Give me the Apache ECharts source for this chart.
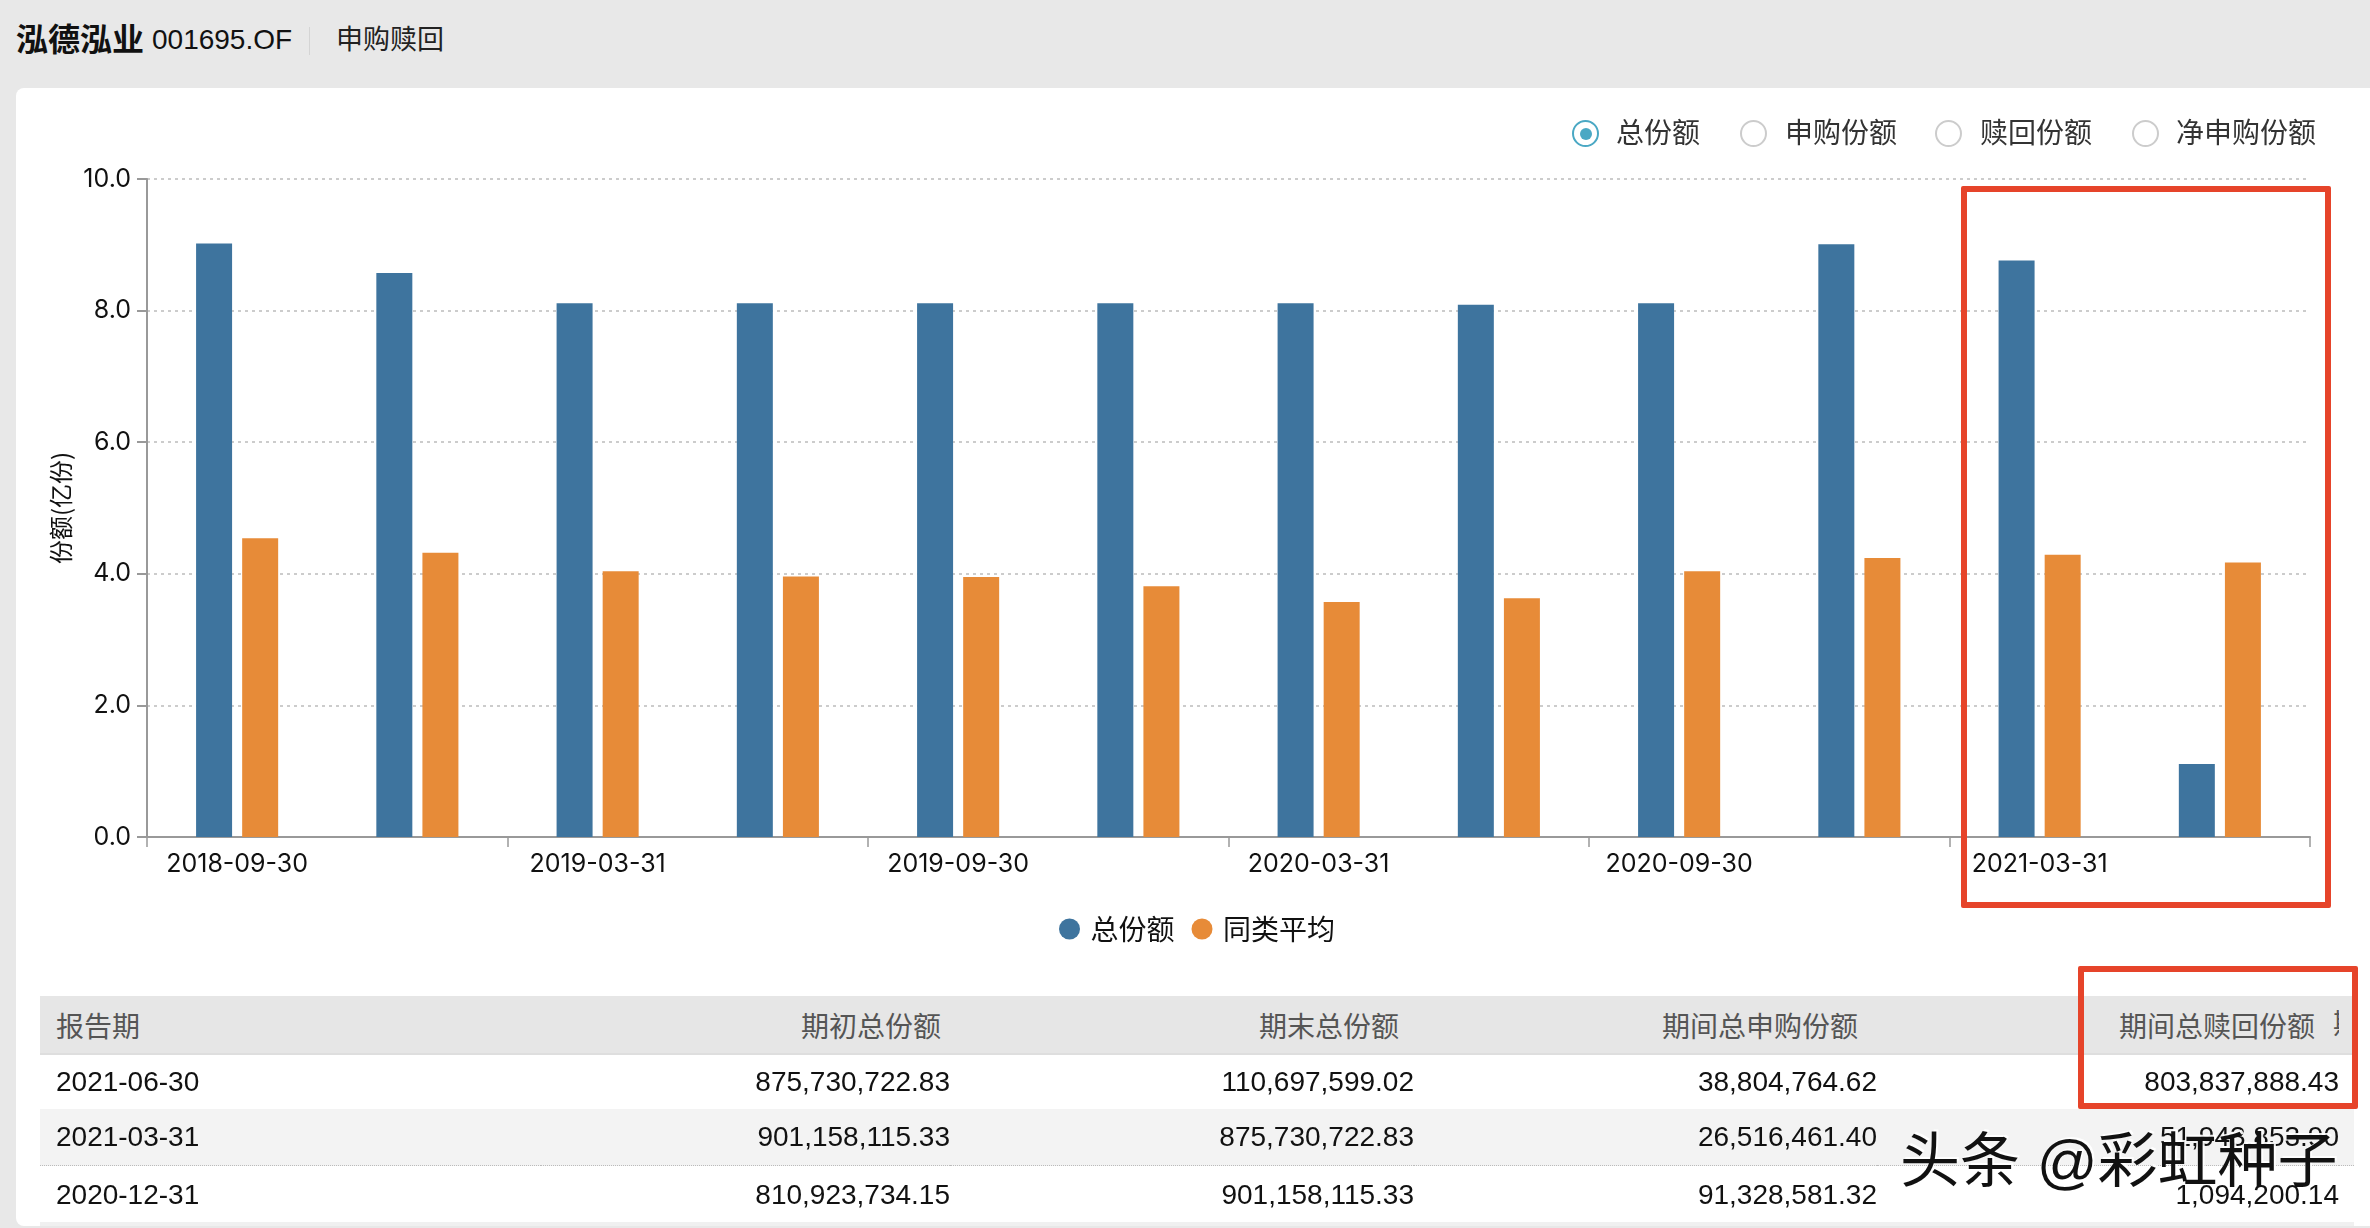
<!DOCTYPE html>
<html>
<head>
<meta charset="utf-8">
<title>申购赎回</title>
<style>
html, body { margin: 0; padding: 0; width: 2370px; height: 1228px; overflow: hidden; background: #e8e8e8; font-family: "Liberation Sans", "Noto Sans CJK SC", sans-serif; }
#card { position: absolute; left: 16px; top: 88px; right: 0; height: 1138px; background: #fff; border-radius: 8px 0 0 8px; }
#main { position: absolute; left: 0; top: 0; width: 2370px; height: 1228px; }
.abs { position: absolute; white-space: nowrap; }
#name { left: 16px; top: 18px; font-size: 32px; line-height: 44px; font-weight: bold; color: #111; }
#code { left: 152px; top: 18px; font-size: 28px; line-height: 44px; color: #111; }
#sep { left: 309px; top: 27px; width: 1px; height: 28px; background: #d4d4d4; }
#tab { left: 336px; top: 18px; font-size: 27px; line-height: 44px; color: #222; }
.radio { position: absolute; top: 120px; width: 27px; height: 27px; box-sizing: border-box; border: 2px solid #ccc; border-radius: 50%; background: #fff; }
.radio.on { border-color: #4aa8c4; }
.radio.on::after { content: ""; position: absolute; left: 5.5px; top: 5.5px; width: 12px; height: 12px; border-radius: 50%; background: #4aa8c4; }
.rlabel { position: absolute; top: 114px; font-size: 28px; line-height: 40px; color: #333; white-space: nowrap; }
#tbl { position: absolute; left: 40px; top: 996px; width: 2314px; border-collapse: collapse; table-layout: fixed; font-size: 28px; }
#tbl th { height: 57px; padding: 0; background: #e6e6e6; border-bottom: 2px solid #dedede; font-weight: normal; color: #555; text-align: right; overflow: hidden; white-space: nowrap; }
#tbl td { padding: 0; color: #111; text-align: right; white-space: nowrap; }
#tbl th:first-child, #tbl td:first-child { text-align: left; padding-left: 16px; }
#tbl tr.r0 td { height: 54px; background: #fff; }
#tbl tr.r1 td { height: 56px; background: #f3f3f3; border-bottom: 1px dotted #bbb; }
#tbl tr.r2 td { height: 57px; background: #fff; }
#strip { position: absolute; left: 40px; top: 1222px; width: 2314px; height: 4px; background: #f0f0f0; }
.box { position: absolute; box-sizing: border-box; border: 6px solid #e6442a; border-radius: 2px; }
#mark { left: 1900px; top: 1127px; font-size: 60px; line-height: 70px; font-family: "Liberation Sans", "Noto Sans CJK SC", sans-serif; color: #111; text-shadow: 2px -2px 0 rgba(255,255,255,0.9); }
#clip { position: absolute; left: 2333px; top: 996px; width: 6px; height: 57px; overflow: hidden; font-size: 28px; line-height: 57px; color: #555; }
</style>
</head>
<body>
<div id="card"></div>
<div class="abs" id="name">泓德泓业</div>
<div class="abs" id="code">001695.OF</div>
<div class="abs" id="sep"></div>
<div class="abs" id="tab">申购赎回</div>
<div id="main"></div>
<div id="radios"></div>
<table id="tbl"></table>
<div id="clip">期</div>
<div id="strip"></div>
<div class="box" style="left:1961px;top:186px;width:370px;height:722px"></div>
<div class="box" style="left:2078px;top:966px;width:280px;height:143px"></div>
<div class="abs" id="mark">头条 @彩虹种子</div>

<script src="https://cdn.jsdelivr.net/npm/echarts@6/dist/echarts.min.js"></script>
<script>
var periods = ['2018-09-30', '2018-12-31', '2019-03-31', '2019-06-30', '2019-09-30', '2019-12-31',
    '2020-03-31', '2020-06-30', '2020-09-30', '2020-12-31', '2021-03-31', '2021-06-30'];
var totalShares = [9.02, 8.57, 8.11, 8.11, 8.11, 8.11, 8.11, 8.09, 8.11, 9.01, 8.76, 1.11];
var peerAverage = [4.54, 4.32, 4.04, 3.96, 3.95, 3.81, 3.57, 3.63, 4.04, 4.24, 4.29, 4.17];

var tableHead = ['报告期', '期初总份额', '期末总份额', '期间总申购份额', '期间总赎回份额'];
var tableRows = [
    ['2021-06-30', '875,730,722.83', '110,697,599.02', '38,804,764.62', '803,837,888.43'],
    ['2021-03-31', '901,158,115.33', '875,730,722.83', '26,516,461.40', '51,943,853.90'],
    ['2020-12-31', '810,923,734.15', '901,158,115.33', '91,328,581.32', '1,094,200.14']
];
var radioLabels = ['总份额', '申购份额', '赎回份额', '净申购份额'];
var radioX = [1572, 1740, 1935, 2132];
var radioTextX = [1616, 1785, 1980, 2176];

// radios
var radioHtml = '';
radioLabels.forEach(function (t, i) {
    radioHtml += '<div class="radio' + (i === 0 ? ' on' : '') + '" style="left:' + radioX[i] + 'px"></div>';
    radioHtml += '<div class="rlabel" style="left:' + radioTextX[i] + 'px">' + t + '</div>';
});
document.getElementById('radios').innerHTML = radioHtml;

// table
var colWidths = [501, 409, 464, 463, 462, 15];
var headPad = [0, 9, 15, 19, 24];
var html = '<colgroup>';
colWidths.forEach(function (w) { html += '<col style="width:' + w + 'px">'; });
html += '</colgroup><tr>';
tableHead.forEach(function (t, i) {
    html += '<th style="padding-right:' + headPad[i] + 'px">' + t + '</th>';
});
html += '<th></th></tr>';
tableRows.forEach(function (row, r) {
    html += '<tr class="r' + r + '">';
    row.forEach(function (v) { html += '<td>' + v + '</td>'; });
    html += '<td></td></tr>';
});
document.getElementById('tbl').innerHTML = html;

var chart = echarts.init(document.getElementById('main'));
var axisFont = 'Inter, "Noto Sans CJK SC", sans-serif';
var option = {
    animation: false,
    textStyle: { fontFamily: axisFont },
    grid: { left: 147, top: 179, width: 2163, height: 658, containLabel: false },
    legend: {
        left: 1054,
        top: 910,
        icon: 'circle',
        itemWidth: 32,
        itemHeight: 21,
        itemGap: 17,
        textStyle: { fontSize: 28, color: '#111', fontFamily: '"Noto Sans CJK SC", sans-serif' },
        data: ['总份额', '同类平均']
    },
    xAxis: {
        type: 'category',
        data: periods,
        axisLine: { lineStyle: { color: '#999', width: 2 } },
        axisTick: { show: true, interval: 1, length: 10, lineStyle: { color: '#999', width: 1.5 } },
        axisLabel: { interval: 1, margin: 15, fontSize: 25, color: '#111', fontFamily: axisFont }
    },
    yAxis: {
        type: 'value',
        min: 0,
        max: 10,
        interval: 2,
        name: '份额(亿份)',
        nameLocation: 'middle',
        nameGap: 72,
        nameRotate: 90,
        nameTextStyle: { fontSize: 24, color: '#111', fontFamily: '"Noto Sans CJK SC", sans-serif' },
        axisLine: { show: true, lineStyle: { color: '#999', width: 2 } },
        axisTick: { show: true, length: 10, lineStyle: { color: '#999', width: 2 } },
        axisLabel: { margin: 16, fontSize: 25, color: '#111', fontFamily: axisFont, formatter: function (v) { return v.toFixed(1); } },
        splitLine: { lineStyle: { color: '#ccc', width: 2, type: [3, 4] } }
    },
    series: [
        { name: '总份额', type: 'bar', data: totalShares, barWidth: 36, barGap: '28%', itemStyle: { color: '#3e749e' } },
        { name: '同类平均', type: 'bar', data: peerAverage, barWidth: 36, itemStyle: { color: '#e78b38' } }
    ]
};
chart.setOption(option);
</script>
</body>
</html>
